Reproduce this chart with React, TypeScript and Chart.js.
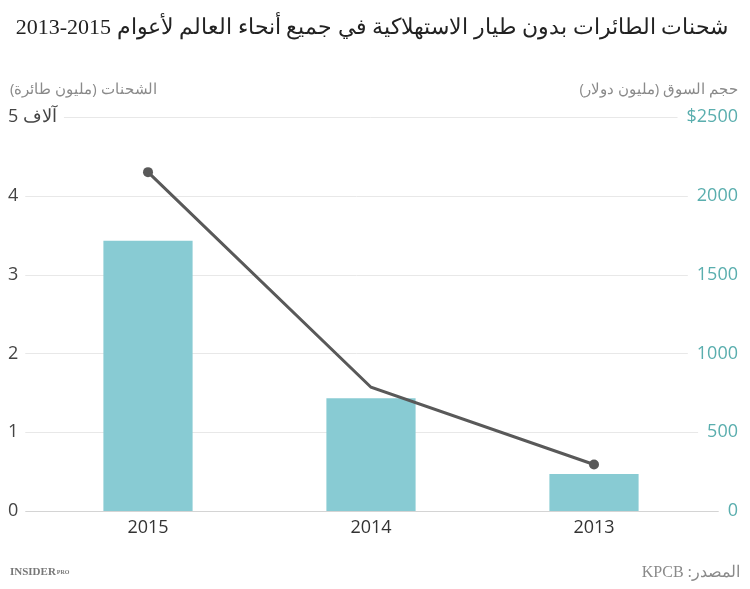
import React, { useEffect, useRef } from "react";
import { Chart, registerables } from "chart.js";

Chart.register(...registerables);

const categories = ["2015", "2014", "2013"];
const marketSize = [1715, 715, 235];
const shipments = [4.3, 1.57, 0.59];
const leftTicks = [0, 1, 2, 3, 4, 5];
const leftTickLabels = ["0", "1", "2", "3", "4", "آلاف 5"];
const rightTicks = [0, 500, 1000, 1500, 2000, 2500];
const rightTickLabels = ["0", "500", "1000", "1500", "2000", "$2500"];

const TICK_FONT = '18px "Open Sans", sans-serif';

const customAxes = {
  id: "customAxes",
  beforeDatasetsDraw(chart: any) {
    const ctx = chart.ctx;
    const y = chart.scales.y;
    const y2 = chart.scales.y2;
    const x = chart.scales.x;
    ctx.save();
    ctx.font = TICK_FONT;
    ctx.textBaseline = "middle";
    leftTicks.forEach((v, i) => {
      const py = y.getPixelForValue(v);
      const lw = ctx.measureText(leftTickLabels[i]).width;
      const rLabel = rightTickLabels[i];
      const rw = ctx.measureText(rLabel).width;
      const rv = y2.getPixelForValue(rightTicks[i]);
      const x0 = 8 + lw + 7;
      const x1 = 738 - rw - 9;
      ctx.strokeStyle = v === 0 ? "#d4d4d4" : "#e8e8e8";
      ctx.lineWidth = 1;
      ctx.beginPath();
      ctx.moveTo(x0, Math.round(py) + 0.5);
      ctx.lineTo(x1, Math.round(py) + 0.5);
      ctx.stroke();
      ctx.fillStyle = "#444";
      ctx.textAlign = "left";
      ctx.fillText(leftTickLabels[i], 8, py);
      ctx.fillStyle = "#5aaeae";
      ctx.textAlign = "right";
      ctx.fillText(rLabel, 738, rv);
    });
    ctx.fillStyle = "#333";
    ctx.textAlign = "center";
    categories.forEach((c, i) => {
      ctx.fillText(c, x.getPixelForValue(i), 528);
    });
    ctx.restore();
  },
};

export default function App() {
  const ref = useRef<HTMLCanvasElement>(null);
  useEffect(() => {
    if (!ref.current) return;
    const chart = new Chart(ref.current, {
      type: "bar",
      data: {
        labels: categories,
        datasets: [
          {
            type: "line",
            data: shipments,
            yAxisID: "y",
            borderColor: "#595959",
            backgroundColor: "#595959",
            borderWidth: 3,
            pointRadius: [5, 0, 5],
            pointHoverRadius: [5, 0, 5],
            pointBackgroundColor: "#595959",
            pointBorderWidth: 0,
            order: 0,
          } as any,
          {
            type: "bar",
            data: marketSize,
            yAxisID: "y2",
            backgroundColor: "#88cbd3",
            barPercentage: 0.4,
            categoryPercentage: 1,
            order: 1,
          },
        ],
      },
      options: {
        animation: false,
        responsive: false,
        layout: { padding: { left: 36.5, right: 44.5, top: 117, bottom: 78 } },
        plugins: { legend: { display: false }, tooltip: { enabled: false } },
        scales: {
          x: { display: false, offset: true },
          y: { display: false, min: 0, max: 5 },
          y2: { display: false, min: 0, max: 2500, position: "right" },
        },
      },
      plugins: [customAxes],
    });
    return () => chart.destroy();
  }, []);

  const gray = "#8a8a8a";
  return (
    <div style={{ position: "fixed", left: 0, top: 0, width: 750, height: 589, background: "#fff" }}>
      <canvas ref={ref} width={750} height={589} style={{ position: "absolute", left: 0, top: 0 }} />
      <div
        dir="rtl"
        style={{
          position: "absolute",
          right: 22,
          top: 9,
          fontFamily: '"Liberation Serif", "DejaVu Serif", serif',
          fontSize: 22,
          color: "#222",
          whiteSpace: "nowrap",
          lineHeight: "36px",
        }}
      >
        شحنات الطائرات بدون طيار الاستهلاكية في جميع أنحاء العالم لأعوام 2015-2013
      </div>
      <div
        dir="rtl"
        style={{
          position: "absolute",
          left: 10,
          top: 76,
          fontFamily: '"Open Sans", sans-serif',
          fontSize: 15,
          color: gray,
          whiteSpace: "nowrap",
          lineHeight: "24px",
        }}
      >
        الشحنات (مليون طائرة)
      </div>
      <div
        dir="rtl"
        style={{
          position: "absolute",
          right: 12,
          top: 76,
          fontFamily: '"Open Sans", sans-serif',
          fontSize: 15,
          color: gray,
          whiteSpace: "nowrap",
          lineHeight: "24px",
        }}
      >
        حجم السوق (مليون دولار)
      </div>
      <div
        style={{
          position: "absolute",
          left: 10,
          top: 563,
          fontFamily: '"Liberation Serif", serif',
          fontSize: 11,
          fontWeight: "bold",
          color: "#777",
          whiteSpace: "nowrap",
          lineHeight: "16px",
        }}
      >
        INSIDER<span style={{ fontSize: 6, marginLeft: 1, verticalAlign: "middle" }}>PRO</span>
      </div>
      <div
        dir="rtl"
        style={{
          position: "absolute",
          right: 10,
          top: 561,
          fontFamily: '"Liberation Serif", serif',
          fontSize: 16,
          color: gray,
          whiteSpace: "nowrap",
          lineHeight: "22px",
        }}
      >
        المصدر: KPCB
      </div>
    </div>
  );
}
